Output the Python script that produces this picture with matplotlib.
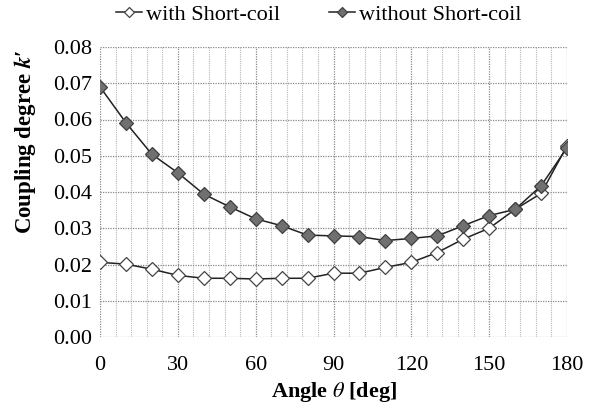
import matplotlib
matplotlib.use("Agg")
import matplotlib.pyplot as plt
import numpy as np

angles = [0, 10, 20, 30, 40, 50, 60, 70, 80, 90, 100, 110, 120, 130, 140, 150, 160, 170, 180]
with_short = [0.0206, 0.0201, 0.0187, 0.0170, 0.0162, 0.0162, 0.0160, 0.0162, 0.0162, 0.0176, 0.0176,
              0.0192, 0.0206, 0.0233, 0.0270, 0.0300, 0.0352, 0.0396, 0.0527]
without_short = [0.0690, 0.0591, 0.0504, 0.0453, 0.0394, 0.0359, 0.0326, 0.0307, 0.0281, 0.0279, 0.0277,
                 0.0266, 0.0272, 0.0279, 0.0307, 0.0335, 0.0352, 0.0417, 0.0522]
xticks = [0, 30, 60, 90, 120, 150, 180]
yticks = [0.00, 0.01, 0.02, 0.03, 0.04, 0.05, 0.06, 0.07, 0.08]

plt.rcParams['font.family'] = ['Liberation Serif', 'DejaVu Serif']
plt.rcParams['mathtext.fontset'] = 'stix'

fig = plt.figure(figsize=(5.95, 4.12), dpi=100)
ax = fig.add_axes([100/595, 1-337/412, 467/595, 290/412])

ax.set_xlim(0, 180)
ax.set_ylim(0, 0.08)
ax.set_xticks(xticks)
ax.set_yticks(yticks)
ax.set_yticklabels([f"{v:.2f}" for v in yticks])
ax.set_xticks(np.arange(0, 181, 6), minor=True)
ax.tick_params(which='both', length=0, labelsize=16)
ax.tick_params(axis='y', pad=6)
ax.tick_params(axis='x', pad=14)
for s in ax.spines.values():
    s.set_visible(False)

ax.grid(which='major', axis='both', color='#888888', linestyle=(0, (1, 1)), linewidth=0.9)
ax.grid(which='minor', axis='x', color='#b8b8b8', linestyle=(0, (1, 1)), linewidth=0.8)
ax.set_axisbelow(True)

ax.plot(angles, with_short, color='#222222', linewidth=1.1, marker='D', markersize=7,
        markerfacecolor='white', markeredgecolor='#444444', markeredgewidth=0.9,
        label='with Short-coil', zorder=3)
ax.plot(angles, without_short, color='#222222', linewidth=1.1, marker='D', markersize=7,
        markerfacecolor='#707070', markeredgecolor='#404040', markeredgewidth=0.9,
        label='without Short-coil', zorder=4)

ax.set_xlabel(r'Angle $\theta$ [deg]', fontsize=16, fontweight='bold', labelpad=3)
fig.text(25/595, 1-142/412, r"Coupling degree $\boldsymbol{k}$′", fontsize=16.5, fontweight='bold',
         rotation=90, ha='center', va='center')

fig.legend(loc='center', bbox_to_anchor=(0.535, 1-15/412), ncol=2, frameon=False,
           fontsize=16, handlelength=1.2, handletextpad=0.15, columnspacing=2.2,
           markerscale=0.75, borderpad=0)

fig.savefig('out.png', dpi=100)
